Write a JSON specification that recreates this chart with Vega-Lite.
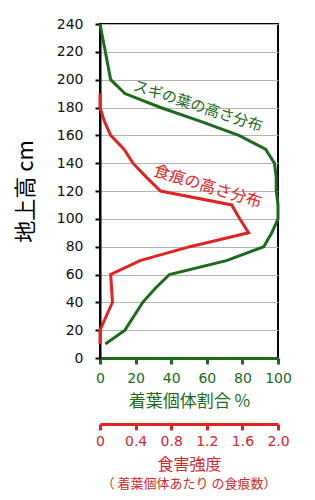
{
  "$schema": "https://vega.github.io/schema/vega-lite/v6.json",
  "width": 178,
  "height": 334,
  "autosize": "none",
  "padding": {"left": 100, "top": 24, "right": 37, "bottom": 142},
  "background": "white",
  "config": {
    "view": {"stroke": "#000", "strokeWidth": 2},
    "font": "DejaVu Sans, Noto Sans CJK JP",
    "axis": {
      "labelFont": "DejaVu Sans, Noto Sans CJK JP",
      "titleFont": "Noto Sans CJK JP, DejaVu Sans",
      "labelFontSize": 14,
      "titleFontWeight": "normal",
      "labelOverlap": false,
      "labelFlush": false
    }
  },
  "title": {
    "text": "（ 着葉個体あたり の食痕数）",
    "orient": "bottom",
    "anchor": "middle",
    "font": "Noto Sans CJK JP",
    "fontSize": 13,
    "fontWeight": "normal",
    "color": "#d42a2a",
    "offset": 6
  },
  "datasets": {
    "leaf": [
      {"pct": 3, "h": 10}, {"pct": 14, "h": 20}, {"pct": 19, "h": 30}, {"pct": 24, "h": 40},
      {"pct": 31, "h": 50}, {"pct": 39, "h": 60}, {"pct": 71, "h": 70}, {"pct": 92, "h": 80},
      {"pct": 96.5, "h": 90}, {"pct": 100, "h": 100}, {"pct": 100, "h": 110}, {"pct": 99, "h": 120},
      {"pct": 99, "h": 130}, {"pct": 98, "h": 140}, {"pct": 93, "h": 150}, {"pct": 78, "h": 160},
      {"pct": 56.5, "h": 170}, {"pct": 34, "h": 180}, {"pct": 14, "h": 190}, {"pct": 6, "h": 200},
      {"pct": 4.5, "h": 210}, {"pct": 3, "h": 220}, {"pct": 1.5, "h": 230}, {"pct": 0, "h": 240}
    ],
    "damage": [
      {"dmg": 0, "h": 10}, {"dmg": 0, "h": 20}, {"dmg": 0.07, "h": 30}, {"dmg": 0.14, "h": 40},
      {"dmg": 0.13, "h": 50}, {"dmg": 0.12, "h": 60}, {"dmg": 0.45, "h": 70}, {"dmg": 1.01, "h": 80},
      {"dmg": 1.67, "h": 90}, {"dmg": 1.57, "h": 100}, {"dmg": 1.48, "h": 110}, {"dmg": 0.68, "h": 120},
      {"dmg": 0.52, "h": 130}, {"dmg": 0.37, "h": 140}, {"dmg": 0.27, "h": 150}, {"dmg": 0.12, "h": 160},
      {"dmg": 0.05, "h": 170}, {"dmg": 0, "h": 180}, {"dmg": 0, "h": 190}
    ],
    "leafLabel": [{"pct": 55, "h": 181, "label": "スギの葉の高さ分布"}],
    "damageLabel": [{"dmg": 1.21, "h": 123, "label": "食痕の高さ分布"}]
  },
  "encoding": {
    "y": {
      "field": "h", "type": "quantitative",
      "scale": {"domain": [0, 240], "nice": false},
      "axis": {
        "values": [0, 20, 40, 60, 80, 100, 120, 140, 160, 180, 200, 220, 240],
        "title": "地上高 cm",
        "titleFontSize": 22,
        "titleColor": "#000",
        "titleX": -75,
        "titleBaseline": "middle",
        "labelFontSize": 14, "labelOverlap": false, "labelFlush": false,
        "grid": true, "gridColor": "#b4b4b4", "gridWidth": 1,
        "domainColor": "#000", "domainWidth": 2,
        "tickColor": "#000", "tickWidth": 2, "tickSize": 5,
        "labelColor": "#111", "labelPadding": 12
      }
    }
  },
  "layer": [
    {
      "data": {"name": "leaf"},
      "mark": {"type": "line", "color": "#1b6b1b", "strokeWidth": 3},
      "encoding": {
        "x": {
          "field": "pct", "type": "quantitative",
          "scale": {"domain": [0, 100], "nice": false},
          "axis": {
            "values": [0, 20, 40, 60, 80, 100],
            "title": "着葉個体割合 %",
            "grid": false,
            "labelFontSize": 14, "labelFlush": false, "labelOverlap": false,
            "domainColor": "#1b6b1b", "domainWidth": 3,
            "tickColor": "#1b6b1b", "tickWidth": 3, "tickSize": 6,
            "labelColor": "#1b6b1b", "labelPadding": 7,
            "titleColor": "#1b6b1b", "titleFontSize": 17, "titlePadding": 8
          }
        },
        "order": {"field": "h", "type": "quantitative"}
      }
    },
    {
      "data": {"name": "leafLabel"},
      "mark": {"type": "text", "color": "#1b6b1b", "angle": 18, "fontSize": 15, "font": "Noto Sans CJK JP"},
      "encoding": {
        "x": {"field": "pct", "type": "quantitative", "scale": {"domain": [0, 100], "nice": false}, "axis": null},
        "text": {"field": "label"}
      }
    },
    {
      "data": {"name": "damage"},
      "mark": {"type": "line", "color": "#e02424", "strokeWidth": 3},
      "encoding": {
        "x": {
          "field": "dmg", "type": "quantitative",
          "scale": {"domain": [0, 2], "nice": false},
          "axis": {
            "orient": "bottom",
            "offset": 66,
            "values": [0, 0.4, 0.8, 1.2, 1.6, 2.0],
            "labelExpr": "datum.value == 0 ? '0' : format(datum.value, '.1f')",
            "title": "食害強度",
            "grid": false,
            "labelFontSize": 14, "labelFlush": false, "labelOverlap": false,
            "domainColor": "#e02424", "domainWidth": 3,
            "tickColor": "#e02424", "tickWidth": 3, "tickSize": 6,
            "labelColor": "#e02424", "labelPadding": 4,
            "titleColor": "#d42a2a", "titleFontSize": 16, "titlePadding": 8
          }
        },
        "order": {"field": "h", "type": "quantitative"}
      }
    },
    {
      "data": {"name": "damageLabel"},
      "mark": {"type": "text", "color": "#e02424", "angle": 17, "fontSize": 16, "font": "Noto Sans CJK JP"},
      "encoding": {
        "x": {"field": "dmg", "type": "quantitative", "scale": {"domain": [0, 2], "nice": false}, "axis": null},
        "text": {"field": "label"}
      }
    }
  ],
  "resolve": {"scale": {"x": "independent"}, "axis": {"x": "independent"}}
}
